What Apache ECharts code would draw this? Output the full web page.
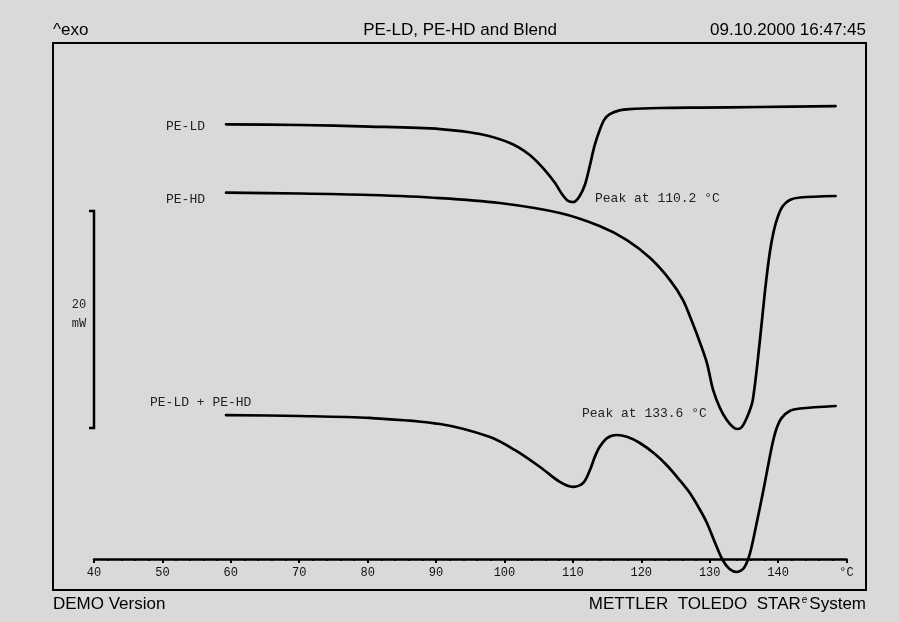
<!DOCTYPE html>
<html>
<head>
<meta charset="utf-8">
<script src="https://cdn.jsdelivr.net/npm/echarts@6/dist/echarts.min.js"></script>
<style>
html,body{margin:0;padding:0;background:#d9d9d9;}
#chart{width:899px;height:622px;}
</style>
</head>
<body>
<div id="chart"></div>
<script>
// Temperature axis ticks (°C)
const xTicks = [40, 50, 60, 70, 80, 90, 100, 110, 120, 130, 140, 150];
const xUnitLabel = '°C';

// PE-LD curve: temperature (°C) and heat flow (mW, arbitrary offset)
const ldTemp = [59.3, 70.1, 80.3, 90.6, 96.4, 100.8, 103.7, 105.9, 107.4, 108.4, 109.3, 110.1, 111.0, 111.8, 112.5, 113.2, 113.9, 114.6, 115.4, 116.8, 118.3, 122.7, 128.6, 137.3, 148.4];
const ldHeat = [40.06, 40.00, 39.86, 39.63, 39.17, 38.34, 37.24, 35.85, 34.65, 33.64, 33.00, 32.90, 33.46, 34.56, 36.31, 38.16, 39.50, 40.50, 41.00, 41.35, 41.47, 41.57, 41.61, 41.66, 41.75];

// PE-HD curve
const hdTemp = [59.3, 70.1, 80.3, 90.6, 99.3, 108.1, 113.9, 117.9, 121.3, 124.2, 126.1, 127.5, 128.6, 129.6, 130.5, 131.5, 132.5, 133.4, 134.0, 134.7, 135.6, 136.3, 137.3, 138.1, 138.8, 139.4, 140.0, 140.7, 141.7, 143.2, 148.4];
const hdHeat = [33.76, 33.69, 33.55, 33.27, 32.81, 31.89, 30.69, 29.40, 27.74, 25.71, 23.87, 21.75, 19.91, 18.06, 15.58, 13.92, 12.81, 12.17, 11.98, 12.17, 13.27, 14.65, 19.91, 24.79, 28.29, 30.32, 31.61, 32.53, 33.09, 33.32, 33.46];

// Blend PE-LD + PE-HD
const blTemp = [59.3, 70.1, 80.3, 90.6, 97.9, 101.5, 105.2, 108.1, 110.0, 111.5, 112.5, 113.2, 113.9, 115.0, 116.4, 118.0, 119.8, 122.0, 123.7, 125.6, 127.1, 128.6, 129.6, 130.8, 131.9, 132.9, 134.0, 135.0, 135.9, 136.9, 137.8, 138.5, 139.2, 139.8, 140.5, 141.7, 143.2, 148.4];
const blHeat = [13.27, 13.18, 13.00, 12.44, 11.24, 10.05, 8.48, 7.10, 6.64, 7.00, 8.20, 9.40, 10.32, 11.15, 11.43, 11.24, 10.69, 9.68, 8.66, 7.28, 6.08, 4.52, 3.32, 1.47, -0.09, -0.92, -1.20, -0.83, 0.55, 3.41, 6.18, 8.48, 10.69, 12.07, 12.99, 13.64, 13.87, 14.10];

// Texts
const seriesNames = ['PE-LD', 'PE-HD', 'PE-LD + PE-HD'];
const peakTexts = ['Peak at 110.2 °C', 'Peak at 133.6 °C'];
const headerLeft = '^exo';
const headerTitle = 'PE-LD, PE-HD and Blend';
const headerDate = '09.10.2000 16:47:45';
const scaleValue = '20';
const scaleUnit = 'mW';

function zip(a, b) { return a.map((v, i) => [v, b[i]]); }

const chart = echarts.init(document.getElementById('chart'));
const mono = '"Liberation Mono", "DejaVu Sans Mono", monospace';
const sans = '"Liberation Sans", Arial, sans-serif';

function line(name, t, h) {
  return {
    name: name, type: 'line', data: zip(t, h), showSymbol: false, symbol: 'none',
    smooth: 0.3, clip: false,
    lineStyle: { color: '#000', width: 2.7, join: 'round', cap: 'round' }, silent: true
  };
}

chart.setOption({
  backgroundColor: '#d9d9d9',
  animation: false,
  grid: { left: 94, right: 52.5, top: 43, bottom: 63 },
  xAxis: {
    type: 'value', min: xTicks[0], max: xTicks[xTicks.length - 1], interval: 10,
    axisLine: { show: true, lineStyle: { color: '#000', width: 2.5 } },
    axisTick: { show: true, length: 4, lineStyle: { color: '#000', width: 2 } },
    minorTick: { show: true, splitNumber: 5, length: 2, lineStyle: { color: '#000', width: 1.5 } },
    splitLine: { show: false },
    axisLabel: {
      fontFamily: mono, fontSize: 12, color: '#111', margin: 8,
      formatter: function (v) { return v === xTicks[xTicks.length - 1] ? xUnitLabel : String(v); }
    }
  },
  yAxis: { type: 'value', min: 0, max: 47.56, show: false },
  series: [line(seriesNames[0], ldTemp, ldHeat), line(seriesNames[1], hdTemp, hdHeat), line(seriesNames[2], blTemp, blHeat)],
  graphic: [
    { type: 'rect', shape: { x: 53, y: 43, width: 813, height: 547 }, style: { fill: 'none', stroke: '#000', lineWidth: 2 }, silent: true },
    { type: 'text', x: 53, y: 30, style: { text: headerLeft, font: '17px ' + sans, fill: '#000', textAlign: 'left', textVerticalAlign: 'middle' } },
    { type: 'text', x: 460, y: 30, style: { text: headerTitle, font: '17px ' + sans, fill: '#000', textAlign: 'center', textVerticalAlign: 'middle' } },
    { type: 'text', x: 866, y: 30, style: { text: headerDate, font: '17px ' + sans, fill: '#000', textAlign: 'right', textVerticalAlign: 'middle' } },
    { type: 'text', x: 53, y: 604, style: { text: 'DEMO Version', font: '17px ' + sans, fill: '#000', textAlign: 'left', textVerticalAlign: 'middle' } },
    { type: 'text', x: 866, y: 604, style: {
        text: '{a|METTLER  TOLEDO  STAR}{e|e}{a|System}', textAlign: 'right', textVerticalAlign: 'middle',
        rich: { a: { font: '17px ' + sans, fill: '#000', color: '#000' }, e: { font: '10px ' + sans, color: '#000', verticalAlign: 'top', padding: [0, 2, 8, 1] } } } },
    { type: 'polyline', shape: { points: [[89, 211], [94, 211], [94, 428], [89, 428]] }, style: { stroke: '#000', lineWidth: 2.5, fill: 'none' } },
    { type: 'text', x: 79, y: 305, style: { text: scaleValue, font: '12px ' + mono, fill: '#222', textAlign: 'center', textVerticalAlign: 'middle' } },
    { type: 'text', x: 79, y: 324, style: { text: scaleUnit, font: '12px ' + mono, fill: '#222', textAlign: 'center', textVerticalAlign: 'middle' } },
    { type: 'text', x: 205, y: 127, style: { text: seriesNames[0], font: '13px ' + mono, fill: '#222', textAlign: 'right', textVerticalAlign: 'middle' } },
    { type: 'text', x: 205, y: 200, style: { text: seriesNames[1], font: '13px ' + mono, fill: '#222', textAlign: 'right', textVerticalAlign: 'middle' } },
    { type: 'text', x: 150, y: 403, style: { text: seriesNames[2], font: '13px ' + mono, fill: '#222', textAlign: 'left', textVerticalAlign: 'middle' } },
    { type: 'text', x: 595, y: 199, style: { text: peakTexts[0], font: '13px ' + mono, fill: '#222', textAlign: 'left', textVerticalAlign: 'middle' } },
    { type: 'text', x: 582, y: 414, style: { text: peakTexts[1], font: '13px ' + mono, fill: '#222', textAlign: 'left', textVerticalAlign: 'middle' } }
  ]
});
</script>
</body>
</html>
